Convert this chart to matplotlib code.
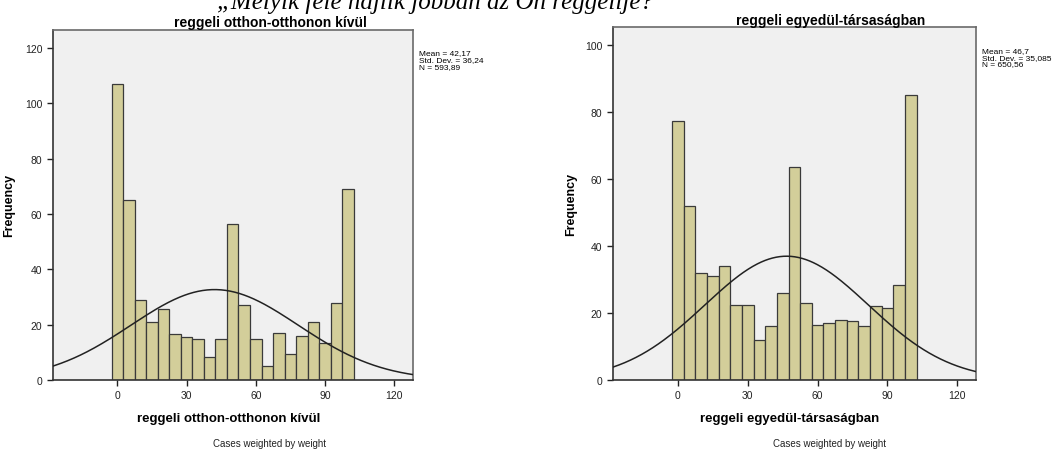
import numpy as np
import matplotlib
matplotlib.use("Agg")
import matplotlib.pyplot as plt

plt.rcParams['font.family'] = ['Liberation Sans', 'DejaVu Sans']

# bin centres (width 5) shared by both histograms
bin_centers = [0, 5, 10, 15, 20, 25, 30, 35, 40, 45, 50, 55, 60, 65, 70, 75, 80, 85, 90, 95, 100]
bin_width = 5

# left histogram: reggeli otthon-otthonon kívül
freq_otthon = [107, 65, 29, 21, 25.5, 16.5, 15.5, 15, 8.5, 15, 56.5,
               27, 15, 5, 17, 9.5, 16, 21, 13.5, 28, 69]
stats_otthon = (42.17, 36.24, 593.89)
label_otthon = "reggeli otthon-otthonon kívül"
stats_text_otthon = "Mean = 42,17\nStd. Dev. = 36,24\nN = 593,89"

# right histogram: reggeli egyedül-társaságban
freq_egyedul = [77.5, 52, 32, 31, 34, 22.5, 22.5, 12, 16, 26, 63.5,
                23, 16.5, 17, 18, 17.5, 16, 22, 21.5, 28.5, 85]
stats_egyedul = (46.7, 35.085, 650.56)
label_egyedul = "reggeli egyedül-társaságban"
stats_text_egyedul = "Mean = 46,7\nStd. Dev. = 35,085\nN = 650,56"

bar_color = "#d3ce9a"
bg_color = "#f0f0f0"

fig = plt.figure(figsize=(10.62, 4.52), dpi=100)

# heading of the page, cut off by the top edge
fig.text(0.41, 0.981, "„Melyik felé hajlik jobban az Ön reggelije?",
         family="Liberation Serif", style="italic", fontsize=18,
         ha="center", va="baseline")


def draw_hist(rect, freqs, stats, label, stats_text, ymax, yticks,
              title_x, xlabel_x, ylabel_x, cases_x):
    mean, sd, n = stats
    ax = fig.add_axes(rect)
    ax.set_facecolor(bg_color)
    ax.bar(bin_centers, freqs, width=bin_width, color=bar_color,
           edgecolor="#3a3a3a", linewidth=0.9, zorder=2)
    xs = np.linspace(-30, 130, 400)
    ys = n * bin_width / (sd * np.sqrt(2 * np.pi)) * np.exp(-0.5 * ((xs - mean) / sd) ** 2)
    ax.plot(xs, ys, color="#222222", linewidth=1.1, zorder=3)
    ax.set_xlim(-28, 128)
    ax.set_ylim(0, ymax)
    ax.set_xticks([0, 30, 60, 90, 120])
    ax.set_yticks(yticks)
    ax.tick_params(labelsize=7.5, length=4, width=1, colors="#222222")
    for s in ["top", "right"]:
        ax.spines[s].set_color("#6a6a6a")
        ax.spines[s].set_linewidth(1.2)
    for s in ["left", "bottom"]:
        ax.spines[s].set_color("#333333")
        ax.spines[s].set_linewidth(1.2)
    ax.set_ylabel("Frequency", fontsize=9, fontweight="bold")
    ax.yaxis.set_label_coords(ylabel_x, 0.5)
    ax.set_xlabel(label, fontsize=9.5, fontweight="bold")
    ax.xaxis.set_label_coords(xlabel_x, -0.09)
    ax.set_title(label, fontsize=10, fontweight="bold", x=title_x, pad=2.5)
    x1 = rect[0] + rect[2]
    fig.text(x1 + 0.006, rect[1] + rect[3] - 0.043, stats_text, fontsize=6,
             va="top", ha="left", linespacing=0.95)
    fig.text(cases_x, 0.006, "Cases weighted by weight", fontsize=7,
             ha="center", va="bottom", color="#222222")
    return ax


draw_hist([0.0496, 0.157, 0.339, 0.775], freq_otthon, stats_otthon, label_otthon,
          stats_text_otthon, 126.6, [0, 20, 40, 60, 80, 100, 120],
          0.604, 0.49, -0.105, 0.254)
draw_hist([0.5769, 0.157, 0.3421, 0.780], freq_egyedul, stats_egyedul, label_egyedul,
          stats_text_egyedul, 105.3, [0, 20, 40, 60, 80, 100],
          0.599, 0.488, -0.098, 0.781)

fig.savefig("out.png", dpi=100)
